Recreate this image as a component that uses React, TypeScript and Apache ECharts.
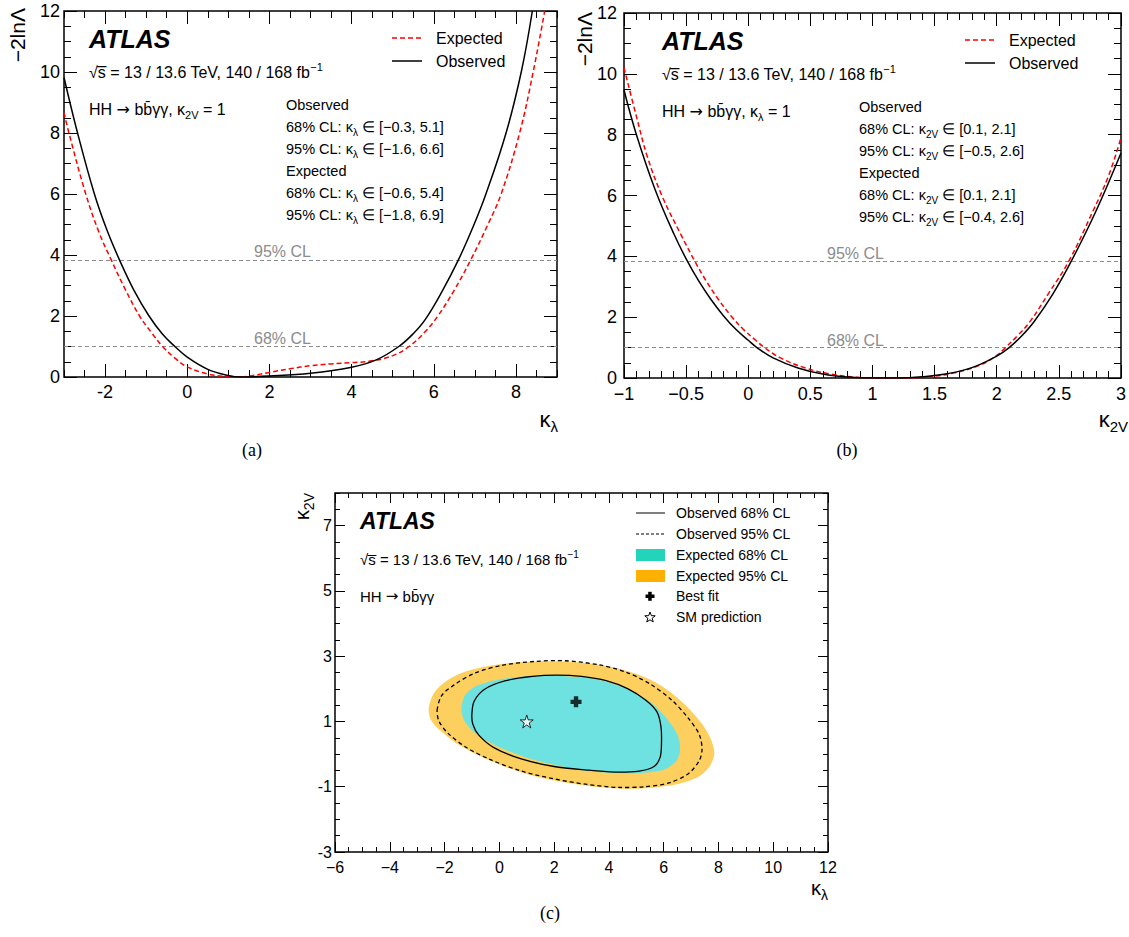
import React, { useEffect, useRef } from 'react';
import * as echarts from 'echarts';

// ---------- Data ----------
// Panel (a): -2lnΛ vs κλ (κ2V = 1)
const kLambdaObserved: number[][] = [
  [-3, 9.82], [-2.67, 8.0], [-2.26, 6.0], [-1.95, 4.8], [-1.65, 3.84], [-1.3, 2.85], [-0.93, 2.0],
  [-0.6, 1.4], [-0.3, 1.0], [0, 0.65], [0.5, 0.25], [1.0, 0.05], [1.3, 0.0], [2, 0.03], [3, 0.12],
  [4, 0.32], [4.6, 0.56], [5.15, 1.0], [5.5, 1.42], [5.8, 1.9], [6.2, 2.8], [6.6, 3.84], [6.95, 4.9],
  [7.27, 6.0], [7.76, 8.0], [8.13, 10.0], [8.4, 12.0],
];
const kLambdaExpected: number[][] = [
  [-3, 8.67], [-2.88, 8.0], [-2.47, 6.0], [-2.15, 4.75], [-1.85, 3.84], [-1.5, 2.85], [-1.16, 2.0],
  [-0.85, 1.42], [-0.6, 1.0], [-0.3, 0.62], [0, 0.33], [0.5, 0.1], [1.0, 0.01], [1.2, 0.0], [1.5, 0.03],
  [2, 0.15], [2.5, 0.27], [3, 0.37], [3.5, 0.43], [4, 0.47], [4.5, 0.53], [5.0, 0.7], [5.4, 1.0],
  [5.8, 1.5], [6.1, 2.0], [6.5, 2.85], [6.9, 3.84], [7.3, 4.95], [7.64, 6.0], [8.09, 8.0], [8.42, 10.0],
  [8.7, 12.0],
];
// Panel (b): -2lnΛ vs κ2V (κλ = 1)
const k2VObserved: number[][] = [
  [-1, 9.47], [-0.9, 8.0], [-0.75, 6.2], [-0.6, 4.75], [-0.49, 3.84], [-0.4, 3.2], [-0.3, 2.58],
  [-0.2, 2.05], [-0.1, 1.6], [0, 1.24], [0.07, 1.0], [0.2, 0.66], [0.4, 0.33], [0.6, 0.13], [0.8, 0.03],
  [1.0, 0.0], [1.2, 0.0], [1.4, 0.04], [1.6, 0.14], [1.8, 0.34], [2.0, 0.72], [2.1, 1.0], [2.2, 1.38],
  [2.3, 1.85], [2.45, 2.75], [2.6, 3.84], [2.8, 5.5], [3.0, 7.4],
];
const k2VExpected: number[][] = [
  [-1, 10.2], [-0.9, 8.6], [-0.81, 7.25], [-0.69, 5.95], [-0.54, 4.7], [-0.43, 3.84], [-0.34, 3.2],
  [-0.24, 2.58], [-0.14, 2.05], [-0.04, 1.6], [0.06, 1.24], [0.13, 1.0], [0.26, 0.66], [0.46, 0.33],
  [0.66, 0.13], [0.86, 0.03], [1.06, 0.0], [1.26, 0.0], [1.46, 0.04], [1.66, 0.17], [1.85, 0.4],
  [2.0, 0.74], [2.07, 1.0], [2.17, 1.4], [2.27, 1.87], [2.42, 2.8], [2.58, 3.84], [2.77, 5.45],
  [2.9, 6.65], [3.0, 7.9],
];
const clLevels = [1, 3.84];

// Panel (c): 2D contours in (κλ, κ2V)
const contourExp95: number[][] = [
  [-2.58, 1.4], [-2.4, 1.85], [-2.0, 2.2], [-1.4, 2.48], [-0.6, 2.67], [0.4, 2.79], [1.3, 2.84],
  [2.3, 2.84], [3.4, 2.77], [4.4, 2.61], [5.3, 2.36], [6.1, 1.99], [6.8, 1.5], [7.35, 0.98], [7.7, 0.5],
  [7.85, 0.05], [7.7, -0.35], [7.3, -0.68], [6.6, -0.9], [5.6, -1.03], [4.6, -1.06], [3.5, -1.0],
  [2.4, -0.87], [1.3, -0.68], [0.2, -0.38], [-0.8, -0.02], [-1.6, 0.35], [-2.2, 0.75], [-2.5, 1.05],
];
const contourExp68: number[][] = [
  [-1.38, 1.35], [-1.25, 1.8], [-0.8, 2.1], [0.1, 2.3], [1.2, 2.39], [2.3, 2.39], [3.5, 2.3],
  [4.6, 2.02], [5.5, 1.6], [6.1, 1.1], [6.5, 0.6], [6.6, 0.15], [6.45, -0.22], [6.0, -0.48],
  [5.2, -0.58], [4.2, -0.58], [3.2, -0.52], [2.0, -0.33], [0.9, -0.08], [-0.1, 0.25], [-0.85, 0.62],
  [-1.25, 0.98],
];
const contourObs95: number[][] = [
  [-2.27, 1.35], [-2.1, 1.8], [-1.65, 2.12], [-0.9, 2.48], [0.1, 2.72], [1.3, 2.84], [2.4, 2.86],
  [3.6, 2.74], [4.6, 2.52], [5.5, 2.15], [6.3, 1.65], [6.9, 1.1], [7.3, 0.6], [7.4, 0.15], [7.3, -0.2],
  [6.9, -0.6], [6.2, -0.88], [5.3, -1.0], [4.3, -1.02], [3.2, -0.93], [2.0, -0.76], [0.8, -0.52],
  [-0.3, -0.18], [-1.2, 0.2], [-1.85, 0.62], [-2.2, 1.0],
];
const contourObs68: number[][] = [
  [-1.0, 1.25], [-0.92, 1.62], [-0.55, 1.98], [0.2, 2.24], [1.2, 2.38], [2.1, 2.42], [3.0, 2.38],
  [3.9, 2.25], [4.7, 2.0], [5.35, 1.65], [5.75, 1.3], [5.9, 0.85], [5.92, 0.3], [5.87, -0.1],
  [5.65, -0.38], [5.1, -0.52], [4.2, -0.55], [3.2, -0.49], [2.0, -0.38], [0.8, -0.15], [-0.2, 0.2],
  [-0.75, 0.58], [-0.97, 0.92],
];
const bestFit: number[][] = [[2.8, 1.6]];
const smPrediction: number[][] = [[1, 1]];

// Tick labels
const ticksAx = [-2, 0, 2, 4, 6, 8];
const ticksAy = [0, 2, 4, 6, 8, 10, 12];
const ticksBx = [-1, -0.5, 0, 0.5, 1, 1.5, 2, 2.5, 3];
const ticksBy = [0, 2, 4, 6, 8, 10, 12];
const ticksCx = [-6, -4, -2, 0, 2, 4, 6, 8, 10, 12];
const ticksCy = [-3, -1, 1, 3, 5, 7];

// ---------- Styling helpers ----------
const FONT = "'Liberation Sans', Arial, Helvetica, sans-serif";
const SERIF = "'Liberation Serif', 'Times New Roman', serif";
const minus = (v: number) => String(v).replace('-', '\u2212');

function axisSet(
  dim: 'x' | 'y', grid: number, min: number, max: number, majors: number[], minorStep: number,
  fontSize: number, majorLen: number, minorLen: number, margin: number, fmt?: (v: number) => string,
) {
  const pos = dim === 'x' ? ['bottom', 'top'] : ['left', 'right'];
  const base = {
    type: 'value', gridIndex: grid, min, max,
    axisLine: { show: false, onZero: false }, splitLine: { show: false }, minorTick: { show: false },
  };
  const major = (position: string, labels: boolean) => ({
    ...base, position,
    axisTick: { show: true, inside: true, length: majorLen, customValues: majors, lineStyle: { color: '#000', width: 1 } },
    axisLabel: labels
      ? { show: true, customValues: majors, fontSize, color: '#000', fontFamily: FONT, margin, formatter: fmt }
      : { show: false },
  });
  const minor = (position: string) => ({
    ...base, position, interval: minorStep,
    axisTick: { show: true, inside: true, length: minorLen, lineStyle: { color: '#000', width: 1 } },
    axisLabel: { show: false },
  });
  return [major(pos[0], true), minor(pos[0]), major(pos[1], false), minor(pos[1])];
}

const subRich = (size: number, main = 16) => ({
  s: { fontSize: size, fontFamily: FONT, verticalAlign: 'bottom', lineHeight: Math.round(size * 1.1), fill: '#000' },
  p: { fontSize: size, fontFamily: FONT, verticalAlign: 'top', lineHeight: Math.round(size * 1.0), fill: '#000' },
  a: { fontSize: main, fontFamily: "'DejaVu Sans', sans-serif", fill: '#000' },
});

function T(x: number, y: number, text: string, size: number, extra: any = {}) {
  return {
    type: 'text', x, y, silent: true, rotation: extra.rotation || 0,
    style: {
      text, fontSize: size, fontFamily: FONT, fill: '#000', align: 'left', verticalAlign: 'middle',
      lineHeight: Math.round(size * 1.35), rich: subRich(Math.round(size * 0.68), size), ...extra.style,
    },
  };
}

function panelTexts(dx: number, dy: number, other: string, obsLines: string[]) {
  const items: any[] = [];
  items.push(T(89 + dx, 39 + dy, 'ATLAS', 25, { style: { fontWeight: 'bold', fontStyle: 'italic' } }));
  items.push(T(89 + dx, 72 + dy, '\u221As\u0305 = 13 / 13.6 TeV, 140 / 168 fb{p|\u22121}', 16));
  items.push(T(89 + dx, 109 + dy, 'HH {a|\u2192} bb\u0304\u03B3\u03B3, \u03BA{s|' + other + '} = 1', 16));
  obsLines.forEach((l, i) => items.push(T(286 + dx, 105 + dy + i * 22, l, 14.5)));
  // legend
  items.push({ type: 'line', silent: true, shape: { x1: 392 + dx, y1: 38 + dy, x2: 422 + dx, y2: 38 + dy }, style: { stroke: '#ff0000', lineWidth: 1.5, lineDash: [5, 3] } });
  items.push({ type: 'line', silent: true, shape: { x1: 392 + dx, y1: 61 + dy, x2: 422 + dx, y2: 61 + dy }, style: { stroke: '#000', lineWidth: 1.5 } });
  items.push(T(436 + dx, 38 + dy, 'Expected', 16));
  items.push(T(436 + dx, 61 + dy, 'Observed', 16));
  items.push(T(254 + dx, 251 + dy, '95% CL', 16, { style: { fill: '#8c8c8c' } }));
  items.push(T(254 + dx, 338 + dy, '68% CL', 16, { style: { fill: '#8c8c8c' } }));
  return items;
}

function starPoints(cx: number, cy: number, r: number) {
  const pts: number[][] = [];
  for (let i = 0; i < 10; i++) {
    const a = -Math.PI / 2 + (i * Math.PI) / 5;
    const rr = i % 2 === 0 ? r : r * 0.42;
    pts.push([cx + rr * Math.cos(a), cy + rr * Math.sin(a)]);
  }
  return pts;
}

const STAR = 'path://M50,0L61.2,34.5L97.6,34.5L68.2,55.9L79.4,90.5L50,69.1L20.6,90.5L31.8,55.9L2.4,34.5L38.8,34.5Z';
const CROSS = 'path://M3,0H7V3H10V7H7V10H3V7H0V3H3Z';

export default function App() {
  const ref = useRef<HTMLDivElement>(null);
  useEffect(() => {
    if (!ref.current) return;
    const chart = echarts.init(ref.current, null, { renderer: 'svg' });

    const xAxes = [
      ...axisSet('x', 0, -3, 9, ticksAx, 0.5, 18, 13, 7, 6),
      ...axisSet('x', 1, -1, 3, ticksBx, 0.1, 18, 13, 7, 7, minus),
      ...axisSet('x', 2, -6, 12, ticksCx, 0.5, 16, 10, 5, 7, minus),
    ];
    const yAxes = [
      ...axisSet('y', 0, 0, 12, ticksAy, 0.5, 18, 13, 7, 4),
      ...axisSet('y', 1, 0, 12, ticksBy, 0.5, 18, 13, 7, 7),
      ...axisSet('y', 2, -3, 8, ticksCy, 0.5, 16, 10, 5, 3),
    ];

    const curve = (data: number[][], idx: number, color: string, dashed: boolean, mark: boolean) => ({
      type: 'line', xAxisIndex: idx, yAxisIndex: idx, data, symbol: 'none', showSymbol: false,
      smooth: 0.4, silent: true, clip: true, z: dashed ? 4 : 5,
      lineStyle: { color, width: 1.5, type: dashed ? [5, 3] : 'solid' },
      markLine: mark ? {
        silent: true, symbol: 'none', label: { show: false }, z: 1,
        lineStyle: { color: '#8c8c8c', width: 1, type: [4, 3] },
        data: clLevels.map((v) => ({ yAxis: v })),
      } : undefined,
    });

    const contour = (pts: number[][], fill: string, stroke: string, dash: number[] | null, z: number) => ({
      type: 'custom', xAxisIndex: 8, yAxisIndex: 8, silent: true, z,
      data: [pts[0]],
      renderItem: (_p: any, api: any) => ({
        type: 'polygon',
        shape: { points: pts.map((p) => api.coord(p)), smooth: 0.3 },
        style: { fill, stroke, lineWidth: 1.3, lineDash: dash || undefined },
      }),
    });

    const graphics: any[] = [
      ...panelTexts(0, 0, '2V', [
        'Observed',
        '68% CL: \u03BA{s|\u03BB} \u2208 [\u22120.3, 5.1]',
        '95% CL: \u03BA{s|\u03BB} \u2208 [\u22121.6, 6.6]',
        'Expected',
        '68% CL: \u03BA{s|\u03BB} \u2208 [\u22120.6, 5.4]',
        '95% CL: \u03BA{s|\u03BB} \u2208 [\u22121.8, 6.9]',
      ]),
      ...panelTexts(573, 2, '\u03BB', [
        'Observed',
        '68% CL: \u03BA{s|2V} \u2208 [0.1, 2.1]',
        '95% CL: \u03BA{s|2V} \u2208 [\u22120.5, 2.6]',
        'Expected',
        '68% CL: \u03BA{s|2V} \u2208 [0.1, 2.1]',
        '95% CL: \u03BA{s|2V} \u2208 [\u22120.4, 2.6]',
      ]),
      // axis titles
      T(17, 8, '\u22122ln\u039B', 21, { rotation: Math.PI / 2, style: { align: 'right', verticalAlign: 'middle' } }),
      T(584, 12, '\u22122ln\u039B', 21, { rotation: Math.PI / 2, style: { align: 'right', verticalAlign: 'middle' } }),
      T(558, 419, '\u03BA{s|\u03BB}', 22, { style: { align: 'right', rich: subRich(15) } }),
      T(1128, 419, '\u03BA{s|2V}', 22, { style: { align: 'right', rich: subRich(15) } }),
      T(828, 888, '\u03BA{s|\u03BB}', 20, { style: { align: 'right', rich: subRich(14) } }),
      T(302, 493, '\u03BA{s|2V}', 20, { rotation: Math.PI / 2, style: { align: 'right', verticalAlign: 'middle', rich: subRich(14) } }),
      // captions
      T(252, 450, '(a)', 18, { style: { align: 'center', fontFamily: SERIF } }),
      T(847, 450, '(b)', 18, { style: { align: 'center', fontFamily: SERIF } }),
      T(550, 913, '(c)', 18, { style: { align: 'center', fontFamily: SERIF } }),
      // panel (c) texts
      T(360, 521, 'ATLAS', 23, { style: { fontWeight: 'bold', fontStyle: 'italic' } }),
      T(360, 559, '\u221As\u0305 = 13 / 13.6 TeV, 140 / 168 fb{p|\u22121}', 15),
      T(360, 596, 'HH {a|\u2192} bb\u0304\u03B3\u03B3', 15),
      // panel (c) legend
      { type: 'line', silent: true, shape: { x1: 636, y1: 513, x2: 665, y2: 513 }, style: { stroke: '#000', lineWidth: 1 } },
      { type: 'line', silent: true, shape: { x1: 636, y1: 534, x2: 665, y2: 534 }, style: { stroke: '#000', lineWidth: 1, lineDash: [3, 2] } },
      { type: 'rect', silent: true, shape: { x: 636, y: 549, width: 29, height: 12 }, style: { fill: '#22D4BA' } },
      { type: 'rect', silent: true, shape: { x: 636, y: 570, width: 29, height: 12 }, style: { fill: '#FFB000' } },
      { type: 'rect', silent: true, shape: { x: 645.5, y: 594.5, width: 9, height: 3.5 }, style: { fill: '#000' } },
      { type: 'rect', silent: true, shape: { x: 648.2, y: 591.8, width: 3.5, height: 9 }, style: { fill: '#000' } },
      { type: 'polygon', silent: true, shape: { points: starPoints(650, 617.5, 5.5) }, style: { fill: '#fff', stroke: '#000', lineWidth: 1 } },
      T(676, 513, 'Observed 68% CL', 14),
      T(676, 534, 'Observed 95% CL', 14),
      T(676, 555, 'Expected 68% CL', 14),
      T(676, 576, 'Expected 95% CL', 14),
      T(676, 596, 'Best fit', 14),
      T(676, 617, 'SM prediction', 14),
    ];

    const option: any = {
      animation: false,
      grid: [
        { left: 64, top: 11, width: 493, height: 366, show: true, borderColor: '#000', borderWidth: 1.5, backgroundColor: 'transparent' },
        { left: 624, top: 13, width: 500, height: 365, show: true, borderColor: '#000', borderWidth: 1.5, backgroundColor: 'transparent' },
        { left: 335, top: 493, width: 493, height: 359, show: true, borderColor: '#000', borderWidth: 1.5, backgroundColor: 'transparent' },
      ],
      xAxis: xAxes,
      yAxis: yAxes,
      series: [
        curve(kLambdaExpected, 0, '#ff0000', true, true),
        curve(kLambdaObserved, 0, '#000000', false, false),
        curve(k2VExpected, 4, '#ff0000', true, true),
        curve(k2VObserved, 4, '#000000', false, false),
        contour(contourExp95, '#FCCF5E', 'none', null, 2),
        contour(contourExp68, '#6DE2E0', 'none', null, 3),
        contour(contourObs95, 'none', '#000', [4, 3], 4),
        contour(contourObs68, 'none', '#000', null, 5),
        {
          type: 'scatter', xAxisIndex: 8, yAxisIndex: 8, data: bestFit, symbol: CROSS, symbolSize: 11,
          itemStyle: { color: '#000' }, silent: true, z: 6,
        },
        {
          type: 'scatter', xAxisIndex: 8, yAxisIndex: 8, data: smPrediction, symbol: STAR, symbolSize: 13,
          itemStyle: { color: '#fff', borderColor: '#000', borderWidth: 1 }, silent: true, z: 6,
        },
      ],
      graphic: graphics,
    };
    chart.setOption(option);
    return () => chart.dispose();
  }, []);

  return (
    <div
      ref={ref}
      style={{ position: 'absolute', left: 0, top: 0, width: 1129, height: 937, background: '#fff' }}
    />
  );
}
